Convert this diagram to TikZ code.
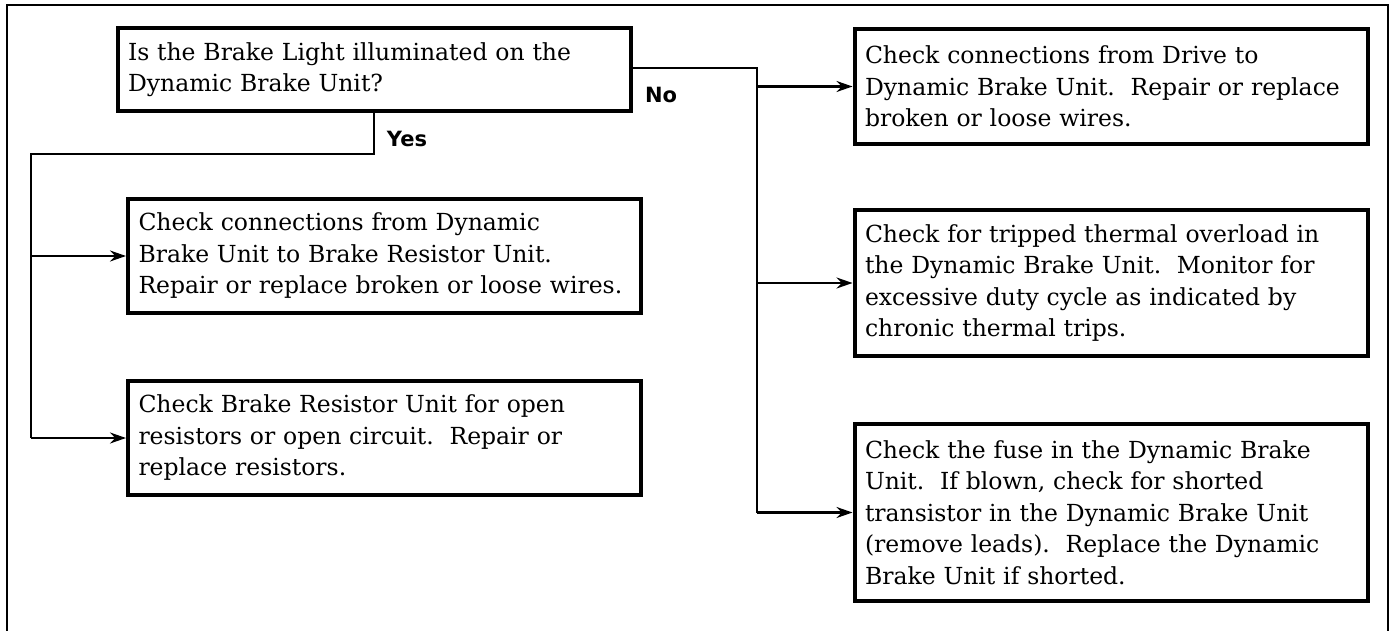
\documentclass[tikz,border=0pt]{standalone}
\usepackage{fontspec}
\setmainfont{DejaVu Serif}
\newfontfamily\lblfont{DejaVu Sans}
\usetikzlibrary{arrows.meta}
\tikzset{
  box/.style={draw, line width=4pt, rectangle, inner xsep=10.5pt, inner ysep=0pt,
    text width=492pt, align=left, minimum width=513pt,
    font=\fontsize{23.5}{31.5}\selectfont},
  conn/.style={line width=2.2pt},
  arr/.style={conn, -{Stealth[length=16pt,width=11pt]}},
  lbl/.style={font=\lblfont\bfseries\fontsize{21}{23}\selectfont, inner sep=0pt},
  frame/.style={line width=1.6pt}
}
\begin{document}
\begin{tikzpicture}[x=1pt,y=-1pt]
\useasboundingbox (0,0) rectangle (1392,631);
\draw[frame] (7,631) -- (7,5) -- (1388,5) -- (1388,631);

\node[box, minimum height=83pt] (q) at (374,69.5) {Is the Brake Light illuminated on the\\Dynamic Brake Unit?};
\node[box, minimum height=114pt] (a) at (384.5,256) {Check connections from Dynamic\\Brake Unit to Brake Resistor Unit.\\Repair or replace broken or loose wires.};
\node[box, minimum height=114pt] (b) at (384.5,438) {Check Brake Resistor Unit for open\\resistors or open circuit.\ \ Repair or\\replace resistors.};
\node[box, minimum height=115pt] (c) at (1111,86.5) {Check connections from Drive to\\Dynamic Brake Unit.\ \ Repair or replace\\broken or loose wires.};
\node[box, minimum height=146pt] (d) at (1111,283) {Check for tripped thermal overload in\\the Dynamic Brake Unit.\ \ Monitor for\\excessive duty cycle as indicated by\\chronic thermal trips.};
\node[box, minimum height=177pt] (e) at (1111,512.5) {Check the fuse in the Dynamic Brake\\Unit.\ \ If blown, check for shorted\\transistor in the Dynamic Brake Unit\\(remove leads).\ \ Replace the Dynamic\\Brake Unit if shorted.};

\node[lbl] (no) at (661,95) {No};
\node[lbl] (yes) at (407,139) {Yes};

% No branch
\coordinate (nx) at (757,68);
\draw[conn] (q.east |- nx) -- (nx) -- (nx |- e.west);
\draw[arr] (nx |- c.west) -- (c.west);
\draw[arr] (nx |- d.west) -- (d.west);
\draw[arr] (nx |- e.west) -- (e.west);

% Yes branch
\coordinate (yt) at (374,154);
\coordinate (yl) at (31,154);
\draw[conn] (q.south) -- (yt) -- (yl) -- (yl |- b.west);
\draw[arr] (yl |- a.west) -- (a.west);
\draw[arr] (yl |- b.west) -- (b.west);
\end{tikzpicture}
\end{document}
